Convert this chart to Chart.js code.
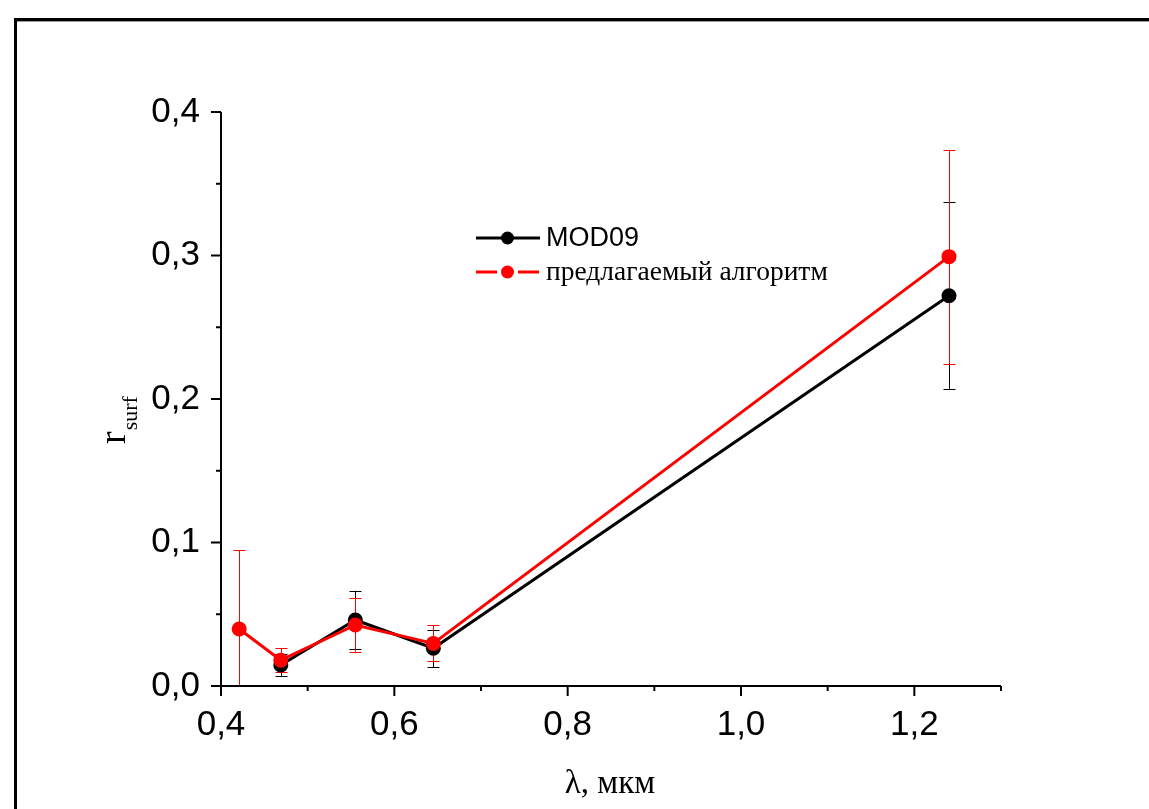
<!DOCTYPE html>
<html>
<head>
<meta charset="utf-8">
<script src="https://cdn.jsdelivr.net/npm/chart.js@4.4.0/dist/chart.umd.min.js"></script>
<style>
    body { margin: 0; background: #ffffff; }
    #chart-rsurf { display: block; }
</style>
</head>
<body>
<canvas id="chart-rsurf" width="1149" height="809"></canvas>
<script>
"use strict";

// wavelengths, um
let modWave = [0.469, 0.555, 0.645, 1.24];
let modValue = [0.0146, 0.046, 0.0263, 0.272];
let modError = [0.0075, 0.0204, 0.013, 0.065];

let algWave = [0.421, 0.469, 0.555, 0.645, 1.24];
let algValue = [0.0397, 0.018, 0.0425, 0.0297, 0.2992];
let algError = [0.055, 0.0085, 0.0186, 0.0125, 0.0745];

let xTicks = [0.4, 0.6, 0.8, 1.0, 1.2];
let xMinorTicks = [0.5, 0.7, 0.9, 1.1, 1.3];
let yTicks = [0.0, 0.1, 0.2, 0.3, 0.4];
let yMinorTicks = [0.05, 0.15, 0.25, 0.35];

let seriesNames = ["MOD09", "предлагаемый алгоритм"];
let xTitle = "λ, мкм";

function toPoints(xs, ys) {
    let pts = [];
    for (let i = 0; i < xs.length; i++) {
        pts.push({ x: xs[i], y: ys[i] });
    }
    return pts;
}

function commaLabel(v) {
    return Number(v).toFixed(1).replace(".", ",");
}

// error bars, drawn under the markers
let errorBars = {
    id: "errorBars",
    beforeDatasetsDraw(chart) {
        let ctx = chart.ctx;
        let xs = chart.scales.x;
        let ys = chart.scales.y;
        let area = chart.chartArea;
        let sets = [
            { w: modWave, v: modValue, e: modError, c: "#000000" },
            { w: algWave, v: algValue, e: algError, c: "#ff0000" }
        ];
        ctx.save();
        ctx.beginPath();
        ctx.rect(area.left, area.top - 20, area.right - area.left, area.bottom - area.top + 20);
        ctx.clip();
        ctx.lineWidth = 1;
        for (let s of sets) {
            ctx.strokeStyle = s.c;
            for (let i = 0; i < s.w.length; i++) {
                let px = Math.round(xs.getPixelForValue(s.w[i])) + 0.5;
                let top = ys.getPixelForValue(s.v[i] + s.e[i]);
                let bot = ys.getPixelForValue(s.v[i] - s.e[i]);
                ctx.beginPath();
                ctx.moveTo(px, top);
                ctx.lineTo(px, bot);
                ctx.moveTo(px - 6, Math.round(top) + 0.5);
                ctx.lineTo(px + 6, Math.round(top) + 0.5);
                if (s.v[i] - s.e[i] >= 0) {
                    ctx.moveTo(px - 6, Math.round(bot) + 0.5);
                    ctx.lineTo(px + 6, Math.round(bot) + 0.5);
                }
                ctx.stroke();
            }
        }
        ctx.restore();
    }
};

// axis lines, ticks, titles, legend and outer frame
let decorations = {
    id: "decorations",
    afterDraw(chart) {
        let ctx = chart.ctx;
        let xs = chart.scales.x;
        let ys = chart.scales.y;
        let area = chart.chartArea;
        ctx.save();

        // outer frame
        ctx.fillStyle = "#000000";
        ctx.fillRect(14, 18, 1149 - 14, 3);
        ctx.fillRect(14, 18, 3, 809 - 18);
        ctx.fillStyle = "#9a9a9a";
        ctx.fillRect(17, 21, 1149 - 17, 1);

        // axes
        ctx.strokeStyle = "#000000";
        ctx.lineWidth = 2;
        ctx.beginPath();
        ctx.moveTo(area.left, area.top);
        ctx.lineTo(area.left, area.bottom);
        ctx.lineTo(area.right, area.bottom);
        ctx.stroke();

        ctx.beginPath();
        for (let t of xTicks) {
            let px = xs.getPixelForValue(t);
            ctx.moveTo(px, area.bottom);
            ctx.lineTo(px, area.bottom + 10);
        }
        for (let t of xMinorTicks) {
            let px = xs.getPixelForValue(t);
            ctx.moveTo(px, area.bottom);
            ctx.lineTo(px, area.bottom + 5);
        }
        for (let t of yTicks) {
            let py = ys.getPixelForValue(t);
            ctx.moveTo(area.left, py);
            ctx.lineTo(area.left - 10, py);
        }
        for (let t of yMinorTicks) {
            let py = ys.getPixelForValue(t);
            ctx.moveTo(area.left, py);
            ctx.lineTo(area.left - 5, py);
        }
        ctx.stroke();

        // x title
        ctx.fillStyle = "#000000";
        ctx.font = "33px 'Liberation Serif', 'Times New Roman', serif";
        ctx.textAlign = "center";
        ctx.textBaseline = "alphabetic";
        ctx.fillText(xTitle, 610, 793);

        // y title, r with subscript
        ctx.save();
        ctx.translate(125, 444);
        ctx.rotate(-Math.PI / 2);
        ctx.textAlign = "left";
        ctx.font = "38px 'Liberation Serif', 'Times New Roman', serif";
        ctx.fillText("r", 0, 0);
        let rw = ctx.measureText("r").width;
        ctx.font = "22px 'Liberation Serif', 'Times New Roman', serif";
        ctx.fillText("surf", rw + 1, 12);
        ctx.restore();

        // legend
        let legendY = [238, 272];
        let legendColor = ["#000000", "#ff0000"];
        let legendFont = [
            "27px 'Liberation Sans', Arial, sans-serif",
            "27.5px 'Liberation Serif', 'Times New Roman', serif"
        ];
        for (let i = 0; i < 2; i++) {
            let ly = legendY[i];
            ctx.strokeStyle = legendColor[i];
            ctx.fillStyle = legendColor[i];
            ctx.lineWidth = 3;
            ctx.beginPath();
            if (i === 0) {
                ctx.moveTo(476, ly);
                ctx.lineTo(540, ly);
            } else {
                ctx.moveTo(476, ly);
                ctx.lineTo(497, ly);
                ctx.moveTo(518, ly);
                ctx.lineTo(539, ly);
            }
            ctx.stroke();
            ctx.beginPath();
            ctx.arc(507.5, ly, 6.5, 0, Math.PI * 2);
            ctx.fill();
            ctx.fillStyle = "#000000";
            ctx.font = legendFont[i];
            ctx.textAlign = "left";
            ctx.textBaseline = "middle";
            ctx.fillText(seriesNames[i], 546, ly + 1);
        }

        ctx.restore();
    }
};

let canvas = document.getElementById("chart-rsurf");

let myChart = new Chart(canvas, {
    "type": "scatter",
    "data": {
        "datasets": [{
            "label": seriesNames[1],
            "data": toPoints(algWave, algValue),
            "showLine": true,
            "borderColor": "#ff0000",
            "backgroundColor": "#ff0000",
            "borderWidth": 3,
            "pointRadius": 7.5,
            "pointBorderWidth": 0,
            "pointHoverRadius": 7.5,
            "order": 0
        }, {
            "label": seriesNames[0],
            "data": toPoints(modWave, modValue),
            "showLine": true,
            "borderColor": "#000000",
            "backgroundColor": "#000000",
            "borderWidth": 3,
            "pointRadius": 7.5,
            "pointBorderWidth": 0,
            "pointHoverRadius": 7.5,
            "order": 1
        }]
    },
    "options": {
        responsive: false,
        maintainAspectRatio: false,
        devicePixelRatio: 1,
        animation: false,
        events: [],
        layout: {
            padding: { left: 0, top: 112, right: 148, bottom: 0 }
        },
        plugins: {
            legend: { display: false },
            tooltip: { enabled: false }
        },
        scales: {
            x: {
                type: "linear",
                min: 0.4,
                max: 1.3,
                grid: { display: false },
                border: { display: false },
                afterBuildTicks: function (scale) {
                    scale.ticks = xTicks.map(v => ({ value: v }));
                },
                afterFit: function (scale) {
                    scale.height = 123;
                },
                ticks: {
                    color: "#000000",
                    padding: 10,
                    maxRotation: 0,
                    autoSkip: false,
                    font: { family: "'Liberation Sans', Arial, sans-serif", size: 35 },
                    callback: commaLabel
                }
            },
            y: {
                type: "linear",
                min: 0,
                max: 0.4,
                grid: { display: false },
                border: { display: false },
                afterBuildTicks: function (scale) {
                    scale.ticks = yTicks.map(v => ({ value: v }));
                },
                afterFit: function (scale) {
                    scale.width = 221;
                },
                ticks: {
                    color: "#000000",
                    padding: 13,
                    autoSkip: false,
                    font: { family: "'Liberation Sans', Arial, sans-serif", size: 35 },
                    callback: commaLabel
                }
            }
        }
    },
    "plugins": [errorBars, decorations]
});
</script>
</body>
</html>
